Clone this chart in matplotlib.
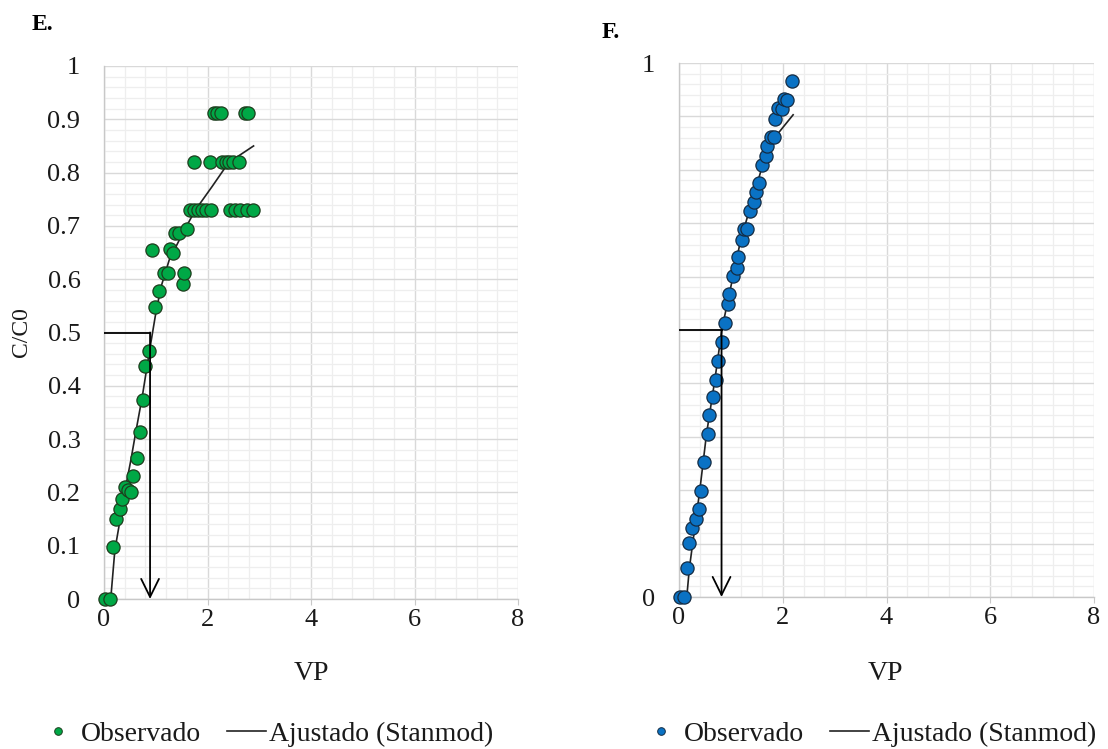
import matplotlib
matplotlib.use("Agg")
import matplotlib.pyplot as plt
from matplotlib.ticker import MultipleLocator, FuncFormatter
from matplotlib.lines import Line2D

plt.rcParams['font.family'] = ['Liberation Serif', 'DejaVu Serif']

# ---- Panel E: observed breakthrough points and fitted curve ----
E_obs_vp = [0.02, 0.11, 0.17, 0.24, 0.31, 0.34, 0.40, 0.46, 0.53, 0.56,
            0.64, 0.70, 0.76, 0.80, 0.87, 0.93, 0.99, 1.07, 1.15, 1.23,
            1.28, 1.34, 1.38, 1.45, 1.52, 1.55, 1.61,
            1.66, 1.74, 1.82, 1.90, 1.98, 2.06, 2.44, 2.54, 2.63, 2.76, 2.87,
            1.74, 2.04, 2.28, 2.35, 2.41, 2.50, 2.60,
            2.12, 2.19, 2.27, 2.73, 2.79]
E_obs_c = [0.0, 0.0, 0.098, 0.150, 0.169, 0.188, 0.211, 0.205, 0.201, 0.230,
           0.265, 0.313, 0.373, 0.438, 0.466, 0.655, 0.547, 0.577, 0.611, 0.611,
           0.656, 0.650, 0.686, 0.686, 0.591, 0.611, 0.694,
           0.729, 0.729, 0.729, 0.729, 0.729, 0.729, 0.729, 0.729, 0.729, 0.729, 0.729,
           0.819, 0.819, 0.819, 0.819, 0.819, 0.819, 0.819,
           0.911, 0.911, 0.911, 0.911, 0.911]
E_fit_vp = [0.13, 0.21, 0.31, 0.42, 0.52, 0.61, 0.74, 0.88, 0.99, 1.10,
            1.26, 1.52, 1.76, 2.09, 2.41, 2.89]
E_fit_c = [0.0, 0.092, 0.148, 0.211, 0.261, 0.311, 0.380, 0.466, 0.530, 0.585,
           0.636, 0.686, 0.729, 0.774, 0.819, 0.850]
E_vp50 = 0.89

# ---- Panel F ----
F_obs_vp = [0.02, 0.10, 0.16, 0.19, 0.26, 0.33, 0.39, 0.42, 0.49, 0.55,
            0.58, 0.65, 0.72, 0.75, 0.82, 0.89, 0.94, 0.97, 1.05, 1.11,
            1.14, 1.21, 1.25, 1.32, 1.37, 1.45, 1.48, 1.54, 1.60, 1.68,
            1.70, 1.77, 1.84, 1.86, 1.91, 1.99, 2.02, 2.09, 2.18]
F_obs_c = [0.0, 0.0, 0.054, 0.101, 0.129, 0.147, 0.164, 0.199, 0.253, 0.305,
           0.340, 0.375, 0.406, 0.442, 0.478, 0.513, 0.548, 0.567, 0.601, 0.617,
           0.637, 0.669, 0.690, 0.689, 0.723, 0.739, 0.758, 0.775, 0.809, 0.825,
           0.845, 0.861, 0.861, 0.896, 0.915, 0.914, 0.932, 0.931, 0.966]
F_fit_vp = [0.15, 0.20, 0.40, 0.53, 0.69, 0.83, 1.19, 1.51, 1.72, 1.85, 2.20]
F_fit_c = [0.0, 0.054, 0.199, 0.305, 0.406, 0.503, 0.669, 0.775, 0.845, 0.861, 0.903]
F_vp50 = 0.82

x_ticks = [0, 2, 4, 6, 8]

GREEN = '#00a846'
GREEN_EDGE = '#1d3d1d'
BLUE = '#0a72c4'
BLUE_EDGE = '#142c44'
TEXT = '#1a1a1a'

W, H = 1108, 749
fig = plt.figure(figsize=(W / 100, H / 100), dpi=100)


def px_axes(x0, y0, x1, y1):
    return fig.add_axes([x0 / W, 1 - y1 / H, (x1 - x0) / W, (y1 - y0) / H])


def style_axes(ax, all_labels):
    ax.set_xlim(0, 8)
    ax.set_ylim(0, 1)
    ax.xaxis.set_major_locator(MultipleLocator(2))
    ax.xaxis.set_minor_locator(MultipleLocator(0.4))
    ax.yaxis.set_major_locator(MultipleLocator(0.1))
    ax.yaxis.set_minor_locator(MultipleLocator(0.02))
    ax.set_xticks(x_ticks)
    ax.set_xticklabels([str(t) for t in x_ticks])
    if all_labels:
        fmt = FuncFormatter(lambda v, p: f"{v:.1f}".rstrip('0').rstrip('.') if abs(v) > 1e-9 else "0")
    else:
        fmt = FuncFormatter(lambda v, p: "0" if abs(v) < 1e-9 else ("1" if abs(v - 1) < 1e-9 else ""))
    ax.yaxis.set_major_formatter(fmt)
    ax.grid(which='major', color='#d9d9d9', lw=1.0)
    ax.grid(which='minor', color='#eeeeee', lw=0.9)
    ax.set_axisbelow(True)
    for s in ('top', 'right'):
        ax.spines[s].set_visible(False)
    for s in ('left', 'bottom'):
        ax.spines[s].set_color('#c8c8c8')
        ax.spines[s].set_linewidth(1.0)
    ax.tick_params(axis='x', which='major', length=4, color='#c8c8c8',
                   pad=3, labelsize=19, labelcolor=TEXT)
    ax.tick_params(axis='y', which='major', length=0, pad=17,
                   labelsize=19, labelcolor=TEXT)
    ax.tick_params(which='minor', length=0)


def draw_panel(ax, obs_vp, obs_c, fit_vp, fit_c, vp50, face, edge):
    ax.plot(fit_vp, fit_c, color='#222222', lw=1.2, zorder=3)
    ax.scatter(obs_vp, obs_c, s=90, c=face, edgecolors=edge, linewidths=0.9,
               zorder=4, clip_on=False)
    ax.plot([0, vp50], [0.5, 0.5], color='black', lw=1.3, zorder=5)
    ax.annotate('', xy=(vp50, 0), xytext=(vp50, 0.5),
                arrowprops=dict(arrowstyle='->, head_length=0.65, head_width=0.32',
                                color='black', lw=1.3,
                                shrinkA=0, shrinkB=0, mutation_scale=20),
                zorder=5)


# Panel E
axE = px_axes(104, 66, 518, 599)
style_axes(axE, True)
draw_panel(axE, E_obs_vp, E_obs_c, E_fit_vp, E_fit_c, E_vp50, GREEN, GREEN_EDGE)
axE.set_xlabel('VP', fontsize=20, color=TEXT)
axE.xaxis.set_label_coords(0.5, (599 - 673) / 533)
axE.xaxis.label.set_verticalalignment('center')
axE.set_ylabel('C/C0', fontsize=17, color=TEXT)
axE.yaxis.set_label_coords((22 - 104) / 414, (599 - 332) / 533)
axE.yaxis.label.set_verticalalignment('center')

# Panel F
axF = px_axes(679, 63, 1094, 597)
style_axes(axF, False)
draw_panel(axF, F_obs_vp, F_obs_c, F_fit_vp, F_fit_c, F_vp50, BLUE, BLUE_EDGE)
axF.set_xlabel('VP', fontsize=20, color=TEXT)
axF.xaxis.set_label_coords((885 - 679) / 415, (597 - 673) / 534)
axF.xaxis.label.set_verticalalignment('center')

# Panel letters
fig.text(42 / W, 1 - 25 / H, 'E.', fontsize=17, fontweight='bold',
         ha='center', va='center', color='black')
fig.text(611 / W, 1 - 33 / H, 'F.', fontsize=17, fontweight='bold',
         ha='center', va='center', color='black')


# Legends below each panel
def add_legend(ax, face, edge, cx):
    handles = [Line2D([], [], marker='o', ls='none', ms=5.5, mfc=face, mec=edge, mew=0.7),
               Line2D([], [], color='#222222', lw=1.2)]
    ax.legend(handles, ['Observado', 'Ajustado (Stanmod)'], loc='center',
              bbox_to_anchor=(cx / W, 1 - 734 / H), bbox_transform=fig.transFigure,
              ncol=2, frameon=False, fontsize=20, handlelength=1.4,
              handletextpad=0.12, columnspacing=0.95, borderpad=0,
              labelcolor=TEXT)


add_legend(axE, GREEN, GREEN_EDGE, 266)
add_legend(axF, BLUE, BLUE_EDGE, 869)

fig.savefig('out.png', dpi=100)
